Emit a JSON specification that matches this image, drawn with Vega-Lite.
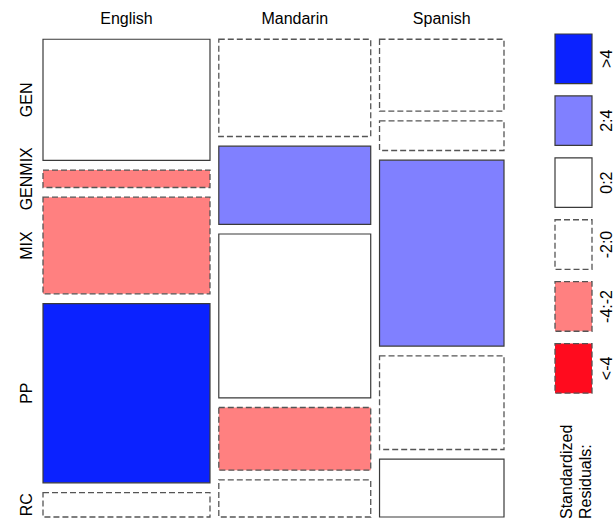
{
  "$schema": "https://vega.github.io/schema/vega-lite/v6.json",
  "padding": {"left": 19, "top": 11, "right": 0, "bottom": 0},
  "autosize": {"type": "pad"},
  "bounds": "flush",
  "spacing": 51,
  "config": {"view": {"stroke": null}, "font": "Liberation Sans"},
  "hconcat": [
    {
      "width": 461,
      "height": 483,
      "data": {
        "values": [
          {"language": "English", "category": "GEN", "count": 104, "residual": "0:2"},
          {"language": "English", "category": "GENMIX", "count": 15, "residual": "-4:-2"},
          {"language": "English", "category": "MIX", "count": 83, "residual": "-4:-2"},
          {"language": "English", "category": "PP", "count": 154, "residual": ">4"},
          {"language": "English", "category": "RC", "count": 21, "residual": "-2:0"},
          {"language": "Mandarin", "category": "GEN", "count": 76, "residual": "-2:0"},
          {"language": "Mandarin", "category": "GENMIX", "count": 61, "residual": "2:4"},
          {"language": "Mandarin", "category": "MIX", "count": 128, "residual": "0:2"},
          {"language": "Mandarin", "category": "PP", "count": 49, "residual": "-4:-2"},
          {"language": "Mandarin", "category": "RC", "count": 29, "residual": "-2:0"},
          {"language": "Spanish", "category": "GEN", "count": 46, "residual": "-2:0"},
          {"language": "Spanish", "category": "GENMIX", "count": 19, "residual": "-2:0"},
          {"language": "Spanish", "category": "MIX", "count": 119, "residual": "2:4"},
          {"language": "Spanish", "category": "PP", "count": 60, "residual": "-2:0"},
          {"language": "Spanish", "category": "RC", "count": 37, "residual": "0:2"}
        ]
      },
      "transform": [
        {"joinaggregate": [{"op": "sum", "field": "count", "as": "N"}]},
        {"joinaggregate": [{"op": "sum", "field": "count", "as": "langTotal"}], "groupby": ["language"]},
        {"window": [{"op": "sum", "field": "count", "as": "cumAll"}], "sort": [{"field": "language"}, {"field": "category"}], "frame": [null, 0]},
        {"window": [{"op": "sum", "field": "count", "as": "cumIn"}], "groupby": ["language"], "sort": [{"field": "category"}], "frame": [null, 0]},
        {"window": [{"op": "dense_rank", "as": "langIdx"}], "sort": [{"field": "language"}]},
        {"window": [{"op": "dense_rank", "as": "catIdx"}], "sort": [{"field": "category"}]},
        {"calculate": "datum.cumAll - datum.count", "as": "prevAll"},
        {"joinaggregate": [{"op": "min", "field": "prevAll", "as": "langStart"}], "groupby": ["language"]},
        {"calculate": "datum.langStart / datum.N * (1 - 2 * 0.0191) + (datum.langIdx - 1) * 0.0191", "as": "x0"},
        {"calculate": "(datum.langStart + datum.langTotal) / datum.N * (1 - 2 * 0.0191) + (datum.langIdx - 1) * 0.0191", "as": "x1"},
        {"calculate": "(datum.cumIn - datum.count) / datum.langTotal * (1 - 4 * 0.0203) + (datum.catIdx - 1) * 0.0203", "as": "y0"},
        {"calculate": "datum.cumIn / datum.langTotal * (1 - 4 * 0.0203) + (datum.catIdx - 1) * 0.0203", "as": "y1"},
        {"calculate": "(datum.x0 + datum.x1) / 2", "as": "xm"},
        {"calculate": "(datum.y0 + datum.y1) / 2", "as": "ym"}
      ],
      "layer": [
        {
          "transform": [{"filter": "datum.residual == '>4' || datum.residual == '2:4' || datum.residual == '0:2'"}],
          "mark": {"type": "rect", "stroke": "#3a3a3a", "strokeWidth": 1.2},
          "encoding": {
            "x": {"field": "x0", "type": "quantitative", "scale": {"domain": [0, 1], "nice": false, "zero": false}, "axis": null},
            "x2": {"field": "x1"},
            "y": {"field": "y0", "type": "quantitative", "scale": {"domain": [-0.011, 1], "reverse": true, "nice": false, "zero": false}, "axis": null},
            "y2": {"field": "y1"},
            "fill": {
              "field": "residual", "type": "nominal", "legend": null,
              "scale": {"domain": [">4", "2:4", "0:2", "-2:0", "-4:-2", "<-4"], "range": ["#0b22ff", "#8080ff", "#ffffff", "#ffffff", "#ff8080", "#ff0b1e"]}
            }
          }
        },
        {
          "transform": [{"filter": "datum.residual == '-2:0' || datum.residual == '-4:-2' || datum.residual == '<-4'"}],
          "mark": {"type": "rect", "stroke": "#555555", "strokeWidth": 1.3, "strokeDash": [6, 3]},
          "encoding": {
            "x": {"field": "x0", "type": "quantitative"},
            "x2": {"field": "x1"},
            "y": {"field": "y0", "type": "quantitative"},
            "y2": {"field": "y1"},
            "fill": {"field": "residual", "type": "nominal", "legend": null}
          }
        },
        {
          "transform": [{"filter": "datum.category == 'GEN'"}],
          "mark": {"type": "text", "fontSize": 16, "font": "Liberation Sans", "align": "center", "baseline": "alphabetic", "dy": -15, "color": "#000000"},
          "encoding": {
            "x": {"field": "xm", "type": "quantitative"},
            "y": {"field": "y0", "type": "quantitative"},
            "text": {"field": "language", "type": "nominal"}
          }
        },
        {
          "transform": [{"filter": "datum.language == 'English'"}],
          "mark": {"type": "text", "fontSize": 16, "font": "Liberation Sans", "align": "center", "baseline": "alphabetic", "angle": 270, "dy": -11, "color": "#000000"},
          "encoding": {
            "x": {"field": "x0", "type": "quantitative"},
            "y": {"field": "ym", "type": "quantitative"},
            "text": {"field": "category", "type": "nominal"}
          }
        }
      ]
    },
    {
      "width": 37,
      "height": 483,
      "data": {"values": [{"label": ">4"}, {"label": "2:4"}, {"label": "0:2"}, {"label": "-2:0"}, {"label": "-4:-2"}, {"label": "<-4"}]},
      "layer": [
        {
          "transform": [{"filter": "datum.label == '>4' || datum.label == '2:4' || datum.label == '0:2'"}],
          "mark": {"type": "rect", "stroke": "#3a3a3a", "strokeWidth": 1.2},
          "encoding": {
            "x": {"datum": 0, "type": "quantitative", "scale": {"domain": [0, 1], "nice": false, "zero": false}, "axis": null},
            "x2": {"datum": 1},
            "y": {"field": "label", "type": "nominal", "axis": null, "scale": {"domain": [">4", "2:4", "0:2", "-2:0", "-4:-2", "<-4"], "paddingInner": 0.2, "paddingOuter": 1.033, "align": 0}},
            "fill": {
              "field": "label", "type": "nominal", "legend": null,
              "scale": {"domain": [">4", "2:4", "0:2", "-2:0", "-4:-2", "<-4"], "range": ["#0b22ff", "#8080ff", "#ffffff", "#ffffff", "#ff8080", "#ff0b1e"]}
            }
          }
        },
        {
          "transform": [{"filter": "datum.label == '-2:0' || datum.label == '-4:-2' || datum.label == '<-4'"}],
          "mark": {"type": "rect", "stroke": "#555555", "strokeWidth": 1.3, "strokeDash": [6, 3]},
          "encoding": {
            "x": {"datum": 0, "type": "quantitative"},
            "x2": {"datum": 1},
            "y": {"field": "label", "type": "nominal"},
            "fill": {"field": "label", "type": "nominal", "legend": null}
          }
        },
        {
          "mark": {"type": "text", "fontSize": 16, "font": "Liberation Sans", "align": "center", "baseline": "alphabetic", "angle": 270, "dy": 20, "color": "#000000"},
          "encoding": {
            "x": {"datum": 1, "type": "quantitative"},
            "y": {"field": "label", "type": "nominal"},
            "text": {"field": "label", "type": "nominal"}
          }
        },
        {
          "data": {"values": [{"title": "Standardized Residuals:"}]},
          "mark": {"type": "text", "text": ["Standardized", "Residuals:"], "fontSize": 16, "font": "Liberation Sans", "align": "left", "baseline": "alphabetic", "angle": 270, "dy": 17, "dx": -2, "lineHeight": 19, "color": "#000000"},
          "encoding": {
            "x": {"datum": 0, "type": "quantitative"},
            "y": {"value": "height"}
          }
        }
      ]
    }
  ]
}
